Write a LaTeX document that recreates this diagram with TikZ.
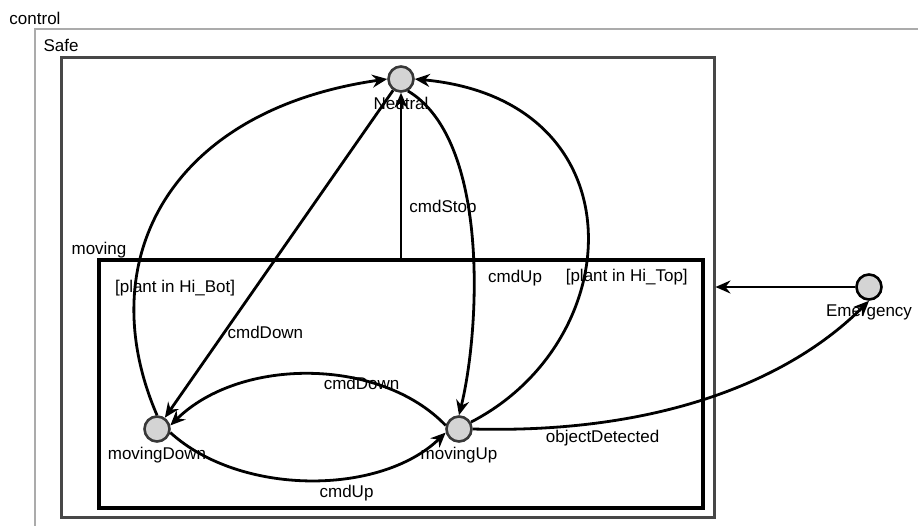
\documentclass[tikz,border=0pt]{standalone}
\usepackage{fontspec}
\setmainfont{Liberation Sans}
\usetikzlibrary{arrows.meta,positioning}

\tikzset{
  state/.style={circle, draw=black!78, line width=2.6pt, fill=black!17,
    minimum size=25pt, inner sep=0pt},
  lbl/.style={font=\fontsize{17}{20}\selectfont, inner sep=2pt},
  stname/.style={lbl, label distance=2pt},
  trans/.style={line width=2.8pt, -{Stealth[length=15pt,width=13pt,inset=5pt]}},
  region/.style={draw, inner sep=0pt},
}

\begin{document}
\begin{tikzpicture}[x=1pt,y=-1pt]
  \useasboundingbox (0,0) rectangle (918,525);

  % outer region, open to the right and below
  \draw[black!33, line width=2.4pt] (35,540) |- (930,29);
  \node[lbl] (control) at (35,18) {control};

  % Safe and moving
  \node[region, draw=black!72, line width=3pt, minimum width=653pt,
    minimum height=460pt] (safe) at (387.5,287) {};
  \node[lbl] (safeLbl) at (61,45) {Safe};
  \node[region, line width=3.6pt, minimum width=604pt,
    minimum height=248pt] (moving) at (401,384) {};
  \node[lbl] (movingLbl) at (99,250) {moving};

  % states
  \node[state, label={[stname]below:Neutral}] (neutral) at (401,79) {};
  \node[state, label={[stname]below:movingDown}] (down) at (157,429) {};
  \node[state, label={[stname]below:movingUp}] (up) at (459,429) {};
  \node[state, draw=black, label={[stname]below:Emergency}] (emerg) at (869,287) {};

  % transitions
  \draw[trans] (moving.north) -- node[lbl, pos=.3, right=5pt] {cmdStop} (neutral);
  \draw[trans] (neutral) -- node[lbl, pos=.74, right] {cmdDown} (down);
  \draw[trans] (neutral.-60) .. controls (490,140) and (480,330) .. node[lbl, pos=.6, right=11pt] {cmdUp} (up.north);
  \draw[trans] (down.north) .. controls (90,260) and (170,110) .. node[lbl, pos=.28, xshift=40pt] {[plant in Hi\_Bot]} (neutral.west);
  \draw[trans] (up.30) .. controls (630,340) and (640,100) .. node[lbl, pos=.4, xshift=42pt, yshift=-5pt] {[plant in Hi\_Top]} (neutral.east);
  \draw[trans] (up.165) .. controls (380,357) and (240,357) .. node[lbl, pos=.33, yshift=-3.5pt] {cmdDown} (down.15);
  \draw[trans] (down.-15) .. controls (240,496) and (380,496) .. node[lbl, pos=.62, below=4pt] {cmdUp} (up.-165);
  \draw[trans] (up.east) .. controls (660,434) and (790,380) .. node[lbl, pos=.25, below=5pt] {objectDetected} (emerg.south);
  \draw[trans] (emerg.west) -- (emerg.west -| safe.east);
\end{tikzpicture}
\end{document}
